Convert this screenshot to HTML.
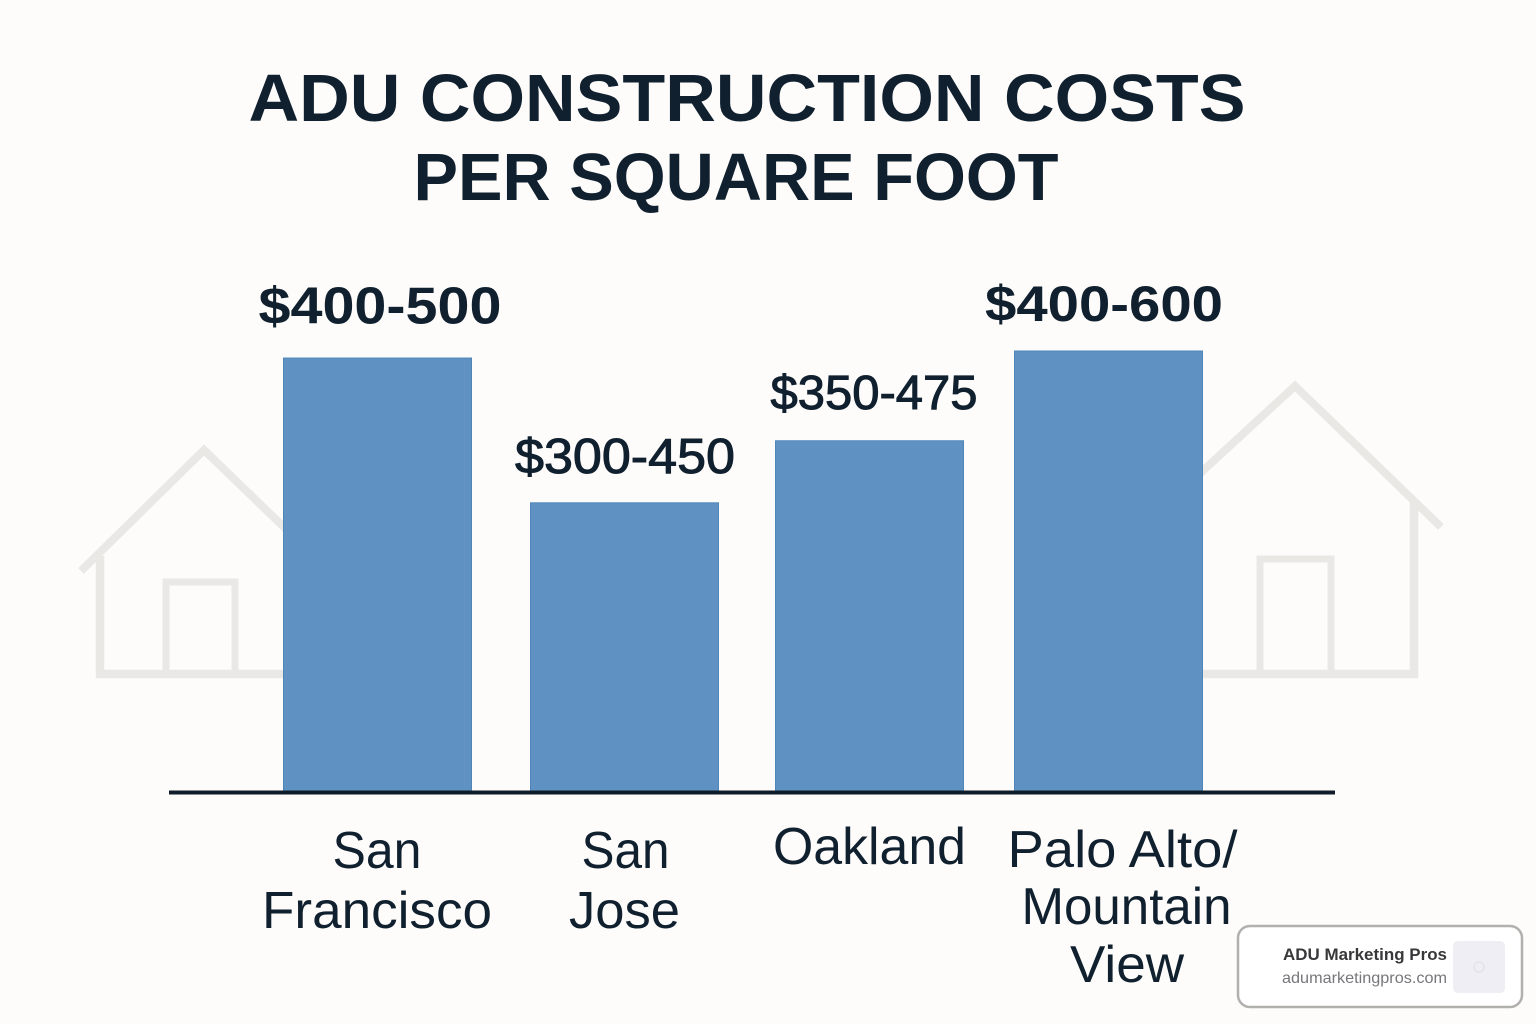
<!DOCTYPE html>
<html lang="en">
<head>
<meta charset="utf-8">
<title>ADU Construction Costs per Square Foot</title>
<style>
html,body{margin:0;padding:0;background:#fdfcfa;}
svg{display:block;}
text{font-family:"Liberation Sans",sans-serif;fill:#10202f;}
</style>
</head>
<body>
<svg id="chart" xmlns="http://www.w3.org/2000/svg" width="1536" height="1024" viewBox="0 0 1536 1024">
  <rect x="0" y="0" width="1536" height="1024" fill="#fdfcfa"/>
  <g fill="none" stroke="#e9e8e5">
    <path d="M81 571 L204 450 L290 533" stroke-width="8"/>
    <path d="M100 556 V674 H290" stroke-width="8.5"/>
    <path d="M166 674 V582 H235 V674" stroke-width="7"/>
  </g>
  <g fill="none" stroke="#e9e8e5">
    <path d="M1195 478 L1295 386 L1441 527" stroke-width="8"/>
    <path d="M1414 502 V674 H1195" stroke-width="8.5"/>
    <path d="M1260 674 V559 H1331 V674" stroke-width="7"/>
  </g>
  <text x="747" y="121" text-anchor="middle" font-size="67" font-weight="700" textLength="997" lengthAdjust="spacingAndGlyphs">ADU CONSTRUCTION COSTS</text>
  <text x="736" y="200" text-anchor="middle" font-size="67" font-weight="700" textLength="645" lengthAdjust="spacingAndGlyphs">PER SQUARE FOOT</text>
  <g id="bars"></g>
  <g id="value-labels"></g>
  <rect x="169" y="790.5" width="1166" height="4" fill="#0f1d2a"/>
  <g id="category-labels"></g>
  <g>
    <rect x="1238" y="926" width="284" height="81" rx="12" fill="#ffffff" stroke="#b1b0ad" stroke-width="2.5"/>
    <text x="1447" y="960" text-anchor="end" font-size="17" font-weight="700" style="fill:#38383a" textLength="164" lengthAdjust="spacingAndGlyphs">ADU Marketing Pros</text>
    <text x="1447" y="983" text-anchor="end" font-size="16" style="fill:#77777b" textLength="165" lengthAdjust="spacingAndGlyphs">adumarketingpros.com</text>
    <rect x="1453" y="941" width="52" height="52" rx="5" fill="#eeeef4"/>
    <circle cx="1479" cy="967" r="5" fill="none" stroke="#e3e3e8" stroke-width="1.5"/>
  </g>
</svg>
<script>
// Chart data
const categories = [["San", "Francisco"], ["San", "Jose"], ["Oakland"], ["Palo Alto/", "Mountain", "View"]];
const rangeLabels = ["$400-500", "$300-450", "$350-475", "$400-600"];
const barValues = [98.4, 65.5, 79.6, 100];

// Axis functions
const svgNS = "http://www.w3.org/2000/svg";
const baselineY = 791;
const unitHeight = 4.4;
const barWidth = 188;
const firstBarX = 283.5;
const barStep = 244;
const barNudge = [0, 3, 4, -1];
const valueNudge = [2.5, 0.5, 4.5, -4.5];
const valueGap = [34.5, 30, 32, 30];
const valueWidth = [243, 220, 207, 238];
const valueSize = [52, 49, 48, 50];
const valueBold = [true, false, false, true];
const categoryNudge = [[-0.5, -0.5], [1, 0], [0], [14, 18, 18.5]];
const categoryBaselines = [[868, 928], [868, 928], [864], [867, 924, 982]];
const categoryWidths = [[89, 230], [88, 111], [193], [230, 210, 114]];

function xScale(i) { return firstBarX + i * barStep + barNudge[i]; }
function yScale(v) { return baselineY - v * unitHeight; }

const barsGroup = document.getElementById("bars");
const valueGroup = document.getElementById("value-labels");
const categoryGroup = document.getElementById("category-labels");

barValues.forEach(function (v, i) {
  const x = xScale(i);
  const top = yScale(v);

  const bar = document.createElementNS(svgNS, "rect");
  
  
  bar.setAttribute("x", x);
  bar.setAttribute("y", top);
  bar.setAttribute("width", barWidth);
  bar.setAttribute("height", baselineY - top);
  bar.setAttribute("fill", "#5f92c2");
  bar.setAttribute("stroke", "#4f86ba");
  bar.setAttribute("stroke-width", "1");
  barsGroup.appendChild(bar);

  const label = document.createElementNS(svgNS, "text");
  
  
  label.setAttribute("x", x + barWidth / 2 + valueNudge[i]);
  label.setAttribute("y", top - valueGap[i]);
  label.setAttribute("text-anchor", "middle");
  label.setAttribute("font-size", valueSize[i]);
  label.setAttribute("font-weight", valueBold[i] ? "700" : "400");
  if (!valueBold[i]) {
    label.setAttribute("stroke", "#10202f");
    label.setAttribute("stroke-width", "1");
  }
  label.setAttribute("textLength", valueWidth[i]);
  label.setAttribute("lengthAdjust", "spacingAndGlyphs");
  label.textContent = rangeLabels[i];
  valueGroup.appendChild(label);

  categories[i].forEach(function (line, j) {
    const cat = document.createElementNS(svgNS, "text");
    
    
    cat.setAttribute("x", x + barWidth / 2 + categoryNudge[i][j]);
    cat.setAttribute("y", categoryBaselines[i][j]);
    cat.setAttribute("text-anchor", "middle");
    cat.setAttribute("font-size", "52");
    cat.setAttribute("textLength", categoryWidths[i][j]);
    cat.setAttribute("lengthAdjust", "spacingAndGlyphs");
    cat.textContent = line;
    categoryGroup.appendChild(cat);
  });
});
</script>
</body>
</html>
